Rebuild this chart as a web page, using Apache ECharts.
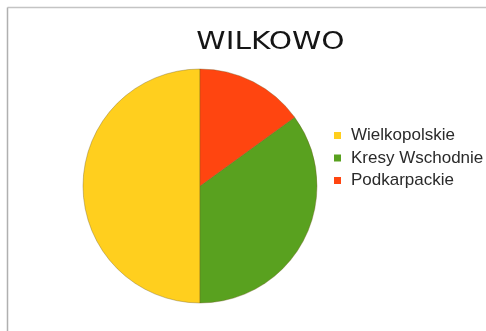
<!DOCTYPE html>
<html>
<head>
<meta charset="utf-8">
<script src="https://cdn.jsdelivr.net/npm/echarts@6/dist/echarts.min.js"></script>
<style>
  html, body { margin: 0; padding: 0; background: #fff; }
  #chart { width: 486px; height: 331px; }
</style>
</head>
<body>
<div id="chart"></div>
<script>
// Share of settlers in Wilkowo by region of origin
const titleText = 'WILKOWO';
const categories = ['Wielkopolskie', 'Kresy Wschodnie', 'Podkarpackie'];
const values = [10, 7, 3];
const colors = ['#FFCF1E', '#59A11F', '#FF4510'];

const chart = echarts.init(document.getElementById('chart'), null, { renderer: 'canvas' });

chart.setOption({
  backgroundColor: '#ffffff',
  animation: false,
  legend: {
    orient: 'vertical',
    left: 334,
    top: 127,
    padding: 0,
    itemWidth: 7,
    itemHeight: 7,
    itemGap: 5.5,
    icon: 'rect',
    itemStyle: { borderWidth: 0 },
    data: categories,
    textStyle: {
      fontFamily: 'Liberation Sans',
      fontSize: 17,
      lineHeight: 17,
      color: '#2a2a2a',
      padding: [0, 0, 0, 5]
    }
  },
  graphic: [
    { type: 'line', shape: { x1: 7.5, y1: 7.5, x2: 486, y2: 7.5 }, style: { stroke: '#c4c4c4', lineWidth: 1.5 } },
    { type: 'line', shape: { x1: 7.5, y1: 7.5, x2: 7.5, y2: 331 }, style: { stroke: '#b0b0b0', lineWidth: 1.5 } },
    {
      type: 'text',
      x: 270.5,
      y: 30,
      scaleX: 1.185,
      style: {
        text: titleText,
        font: '25px "DejaVu Sans"',
        fill: '#151515',
        textAlign: 'center',
        textVerticalAlign: 'top'
      }
    }
  ],
  series: [{
    type: 'pie',
    center: [200, 186],
    radius: 117,
    startAngle: 90,
    clockwise: false,
    label: { show: false },
    labelLine: { show: false },
    emphasis: { disabled: true },
    itemStyle: { borderColor: 'rgba(110,90,30,0.45)', borderWidth: 0.8 },
    data: categories.map((name, i) => ({
      name: name,
      value: values[i],
      itemStyle: { color: colors[i] }
    }))
  }]
});
</script>
</body>
</html>
